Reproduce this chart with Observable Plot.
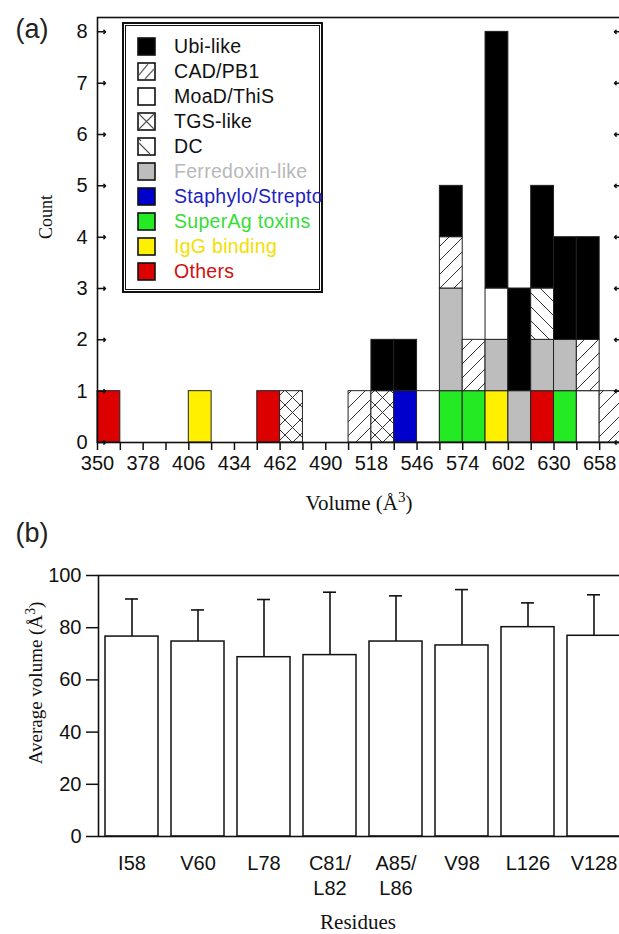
<!DOCTYPE html>
<html>
<head>
<meta charset="utf-8">
<script src="https://cdn.jsdelivr.net/npm/d3@7"></script>
<script src="https://cdn.jsdelivr.net/npm/@observablehq/plot@0.6"></script>
<style>
  html, body { margin: 0; padding: 0; background: #fff; overflow: hidden; }
  #wrap { position: relative; width: 619px; height: 934px; overflow: hidden; background: #fff; }
  .abs { position: absolute; white-space: nowrap; line-height: 1; }
  .tag { font-family: "Liberation Sans", Arial, sans-serif; font-size: 27px; color: #222; }
  .serif { font-family: "Liberation Serif", "Times New Roman", serif; color: #111; }
  .legend { position: absolute; left: 122px; top: 22px; width: 197px; height: 267px; border: 2px solid #111; background: #fff; }
  .legend .inner { position: absolute; left: 1px; top: 1px; right: 1px; bottom: 1px; border: 1px solid #111; }
  .legend .row { position: absolute; left: 13px; height: 20px; display: flex; align-items: center;
     font-family: "Liberation Sans", Arial, sans-serif; font-size: 19.5px; letter-spacing: 0.3px; }
  .legend svg { margin-right: 18px; flex: none; }
  sup { font-size: 0.72em; vertical-align: 0.5em; line-height: 0; }
</style>
</head>
<body>
<div id="wrap"></div>
<script>
// ---------------- Panel (a) data ----------------
const binWidth = 14;
const binStarts = [350,364,378,392,406,420,434,448,462,476,490,504,518,532,546,560,574,588,602,616,630,644,658];
const categories = ["Ubi-like","CAD/PB1","MoaD/ThiS","TGS-like","DC","Ferredoxin-like","Staphylo/Strepto","SuperAg toxins","IgG binding","Others"];
//                 350 364 378 392 406 420 434 448 462 476 490 504 518 532 546 560 574 588 602 616 630 644 658
const ubiLike    = [0,  0,  0,  0,  0,  0,  0,  0,  0,  0,  0,  0,  1,  1,  0,  1,  0,  5,  2,  2,  2,  2,  0];
const cadPb1     = [0,  0,  0,  0,  0,  0,  0,  0,  0,  0,  0,  1,  0,  0,  0,  1,  1,  0,  0,  0,  0,  1,  1];
const moadThis   = [0,  0,  0,  0,  0,  0,  0,  0,  0,  0,  0,  0,  0,  0,  1,  0,  0,  1,  0,  0,  0,  1,  0];
const tgsLike    = [0,  0,  0,  0,  0,  0,  0,  0,  1,  0,  0,  0,  1,  0,  0,  0,  0,  0,  0,  0,  0,  0,  0];
const dcCounts   = [0,  0,  0,  0,  0,  0,  0,  0,  0,  0,  0,  0,  0,  0,  0,  0,  0,  0,  0,  1,  0,  0,  0];
const ferredoxin = [0,  0,  0,  0,  0,  0,  0,  0,  0,  0,  0,  0,  0,  0,  0,  2,  0,  1,  1,  1,  1,  0,  0];
const staphylo   = [0,  0,  0,  0,  0,  0,  0,  0,  0,  0,  0,  0,  0,  1,  0,  0,  0,  0,  0,  0,  0,  0,  0];
const superAg    = [0,  0,  0,  0,  0,  0,  0,  0,  0,  0,  0,  0,  0,  0,  0,  1,  1,  0,  0,  0,  1,  0,  0];
const iggBinding = [0,  0,  0,  0,  1,  0,  0,  0,  0,  0,  0,  0,  0,  0,  0,  0,  0,  1,  0,  0,  0,  0,  0];
const others     = [1,  0,  0,  0,  0,  0,  0,  1,  0,  0,  0,  0,  0,  0,  0,  0,  0,  0,  0,  1,  0,  0,  0];
const stackOrder = ["Others","IgG binding","SuperAg toxins","Staphylo/Strepto","Ferredoxin-like","MoaD/ThiS","TGS-like","DC","CAD/PB1","Ubi-like"];
const xTickValues = [350,364,378,392,406,420,434,448,462,476,490,504,518,532,546,560,574,588,602,616,630,644,658,672];
const xTickLabels = [350,378,406,434,462,490,518,546,574,602,630,658];
const yTicksA = [0,1,2,3,4,5,6,7,8];

// ---------------- Panel (b) data ----------------
const residues = ["I58","V60","L78","C81/\nL82","A85/\nL86","V98","L126","V128"];
const avgVolume = [76.6, 74.7, 68.7, 69.5, 74.7, 73.2, 80.2, 76.9];
const errVolume = [14.4, 12.1, 22.1, 24.1, 17.5, 21.4, 9.3, 15.7];
const yTicksB = [0,20,40,60,80,100];

// ---------------- styles ----------------
const fills = {
  "Ubi-like": "#000000", "CAD/PB1": "url(#pCad)", "MoaD/ThiS": "#ffffff", "TGS-like": "url(#pTgs)",
  "DC": "url(#pDc)", "Ferredoxin-like": "#bdbdbd", "Staphylo/Strepto": "#0000cc",
  "SuperAg toxins": "#24ea24", "IgG binding": "#fff000", "Others": "#dc0000"
};
const textColors = {
  "Ubi-like": "#111", "CAD/PB1": "#111", "MoaD/ThiS": "#111", "TGS-like": "#111", "DC": "#111",
  "Ferredoxin-like": "#b8b8b8", "Staphylo/Strepto": "#2222c0", "SuperAg toxins": "#36dd36",
  "IgG binding": "#f2e000", "Others": "#d01010"
};

const seriesByCat = {
  "Ubi-like": ubiLike, "CAD/PB1": cadPb1, "MoaD/ThiS": moadThis, "TGS-like": tgsLike, "DC": dcCounts,
  "Ferredoxin-like": ferredoxin, "Staphylo/Strepto": staphylo, "SuperAg toxins": superAg,
  "IgG binding": iggBinding, "Others": others
};
const rects = [];
binStarts.forEach((b, i) => {
  let y = 0;
  for (const c of stackOrder) {
    const n = seriesByCat[c][i];
    if (n > 0) { rects.push({cat: c, x1: b, x2: b + binWidth, y1: y, y2: y + n}); y += n; }
  }
});

const wrap = document.getElementById("wrap");
const ink = "#111";

const plotA = Plot.plot({
  width: 630, height: 480,
  marginLeft: 97, marginRight: 8, marginTop: 17, marginBottom: 38,
  style: {fontFamily: "Liberation Sans, Arial, sans-serif", fontSize: "20px", color: ink,
          background: "transparent", maxWidth: "none", overflow: "visible"},
  x: {domain: [350, 672]},
  y: {domain: [0, 8.28]},
  color: {domain: categories, range: categories.map(c => fills[c])},
  marks: [
    Plot.rect(rects, {x1: "x1", x2: "x2", y1: "y1", y2: "y2", fill: "cat", stroke: "#222", strokeWidth: 1}),
    Plot.frame({stroke: ink, strokeWidth: 1.6}),
    Plot.axisX({ticks: xTickValues, tickSize: 8, tickPadding: 5, strokeWidth: 1.5, fontSize: 20,
                tickFormat: d => xTickLabels.includes(d) ? String(d) : "", label: null}),
    Plot.axisY({ticks: yTicksA, tickSize: 0, tickPadding: 10, fontSize: 20, label: null}),
    Plot.vector(yTicksA, {x: 350, y: d => d, length: 8, rotate: 90, anchor: "start", stroke: ink, strokeWidth: 1.5}),
    Plot.vector(yTicksA, {x: 672, y: d => d, length: 8, rotate: -90, anchor: "start", stroke: ink, strokeWidth: 1.5})
  ]
});
plotA.style.position = "absolute"; plotA.style.left = "0px"; plotA.style.top = "0px";

// hatch patterns
const defs = d3.select(plotA).insert("defs", ":first-child");
function pattern(id, size, d) {
  const p = defs.append("pattern").attr("id", id).attr("patternUnits", "userSpaceOnUse")
    .attr("width", size).attr("height", size);
  p.append("rect").attr("width", size).attr("height", size).attr("fill", "#fff");
  p.append("path").attr("d", d).attr("stroke", "#333").attr("stroke-width", 1).attr("fill", "none");
}
const s = 14, h = s / 4;
const fwd = `M${-h},${h}L${h},${-h}M0,${s}L${s},0M${s-h},${s+h}L${s+h},${s-h}`;
const bwd = `M${-h},${s-h}L${h},${s+h}M0,0L${s},${s}M${s-h},${-h}L${s+h},${h}`;
pattern("pCad", s, fwd);
pattern("pDc", s, bwd);
pattern("pTgs", 15, `M-3,3L3,-3M0,15L15,0M12,18L18,12M-3,12L3,18M0,0L15,15M12,-3L18,3`);
wrap.appendChild(plotA);

// ---------------- Panel (b) ----------------
const barData = residues.map((r, i) => ({name: r, mean: avgVolume[i], err: errVolume[i]}));
const plotB = Plot.plot({
  width: 630, height: 394,
  marginLeft: 98, marginRight: 4, marginTop: 35, marginBottom: 98,
  style: {fontFamily: "Liberation Sans, Arial, sans-serif", fontSize: "20px", color: ink,
          background: "transparent", maxWidth: "none", overflow: "visible"},
  x: {domain: residues, paddingInner: 0.2, paddingOuter: 0.1},
  y: {domain: [0, 100]},
  marks: [
    Plot.ruleX(barData, {x: "name", y1: "mean", y2: d => d.mean + d.err, stroke: ink, strokeWidth: 1.6}),
    Plot.tickY(barData, {x: "name", y: d => d.mean + d.err, insetLeft: 20, insetRight: 20, stroke: ink, strokeWidth: 1.6}),
    Plot.barY(barData, {x: "name", y: "mean", fill: "white", stroke: ink, strokeWidth: 1.5}),
    Plot.frame({stroke: ink, strokeWidth: 1.6}),
    Plot.axisY({ticks: yTicksB, tickSize: 12, tickPadding: 5, strokeWidth: 1.5, fontSize: 20, label: null}),
    Plot.axisX({tickSize: 0, tickPadding: 16, lineHeight: 1.25, fontSize: 20, label: null})
  ]
});
plotB.style.position = "absolute"; plotB.style.left = "0px"; plotB.style.top = "540px";
wrap.appendChild(plotB);

// ---------------- Legend (a) ----------------
const legend = document.createElement("div");
legend.className = "legend";
legend.innerHTML = '<div class="inner"></div>';
function swatch(cat) {
  const base = '<rect x="1" y="1" width="17" height="17" fill="FILL" stroke="#111" stroke-width="1.6"/>';
  let extra = "";
  if (cat === "CAD/PB1") extra = '<path d="M2,13L11,2M8,17L17,7" stroke="#666" stroke-width="1.2"/>';
  if (cat === "TGS-like") extra = '<path d="M2,2L17,17M17,2L2,17" stroke="#555" stroke-width="1.2"/>';
  if (cat === "DC") extra = '<path d="M2,6L13,17M2,2L4,4" stroke="#555" stroke-width="1.2"/>';
  const f = fills[cat].startsWith("url") ? "#fff" : fills[cat];
  return `<svg width="19" height="19">${base.replace("FILL", f)}${extra}</svg>`;
}
categories.forEach((c, i) => {
  const row = document.createElement("div");
  row.className = "row";
  row.style.top = (12 + i * 25.1) + "px";
  row.style.color = textColors[c];
  row.innerHTML = swatch(c) + `<span>${c}</span>`;
  legend.appendChild(row);
});
wrap.appendChild(legend);

// ---------------- Titles / labels ----------------
function place(html, cx, cy, cls, rot, size) {
  const d = document.createElement("div");
  d.className = "abs " + cls;
  d.innerHTML = html;
  if (size) d.style.fontSize = size + "px";
  d.style.left = cx + "px"; d.style.top = cy + "px";
  d.style.transform = `translate(-50%,-50%)` + (rot ? ` rotate(${rot}deg)` : "");
  wrap.appendChild(d);
}
place("(a)", 32, 29, "tag", 0, 27);
place("(b)", 32, 533, "tag", 0, 27);
place("Count", 46, 217, "serif", -90, 18);
place("Volume (Å<sup>3</sup>)", 359, 503, "serif", 0, 21);
place("Average volume (Å<sup>3</sup>)", 35, 683, "serif", -90, 19);
place("Residues", 358, 922, "serif", 0, 21);
</script>
</body>
</html>
